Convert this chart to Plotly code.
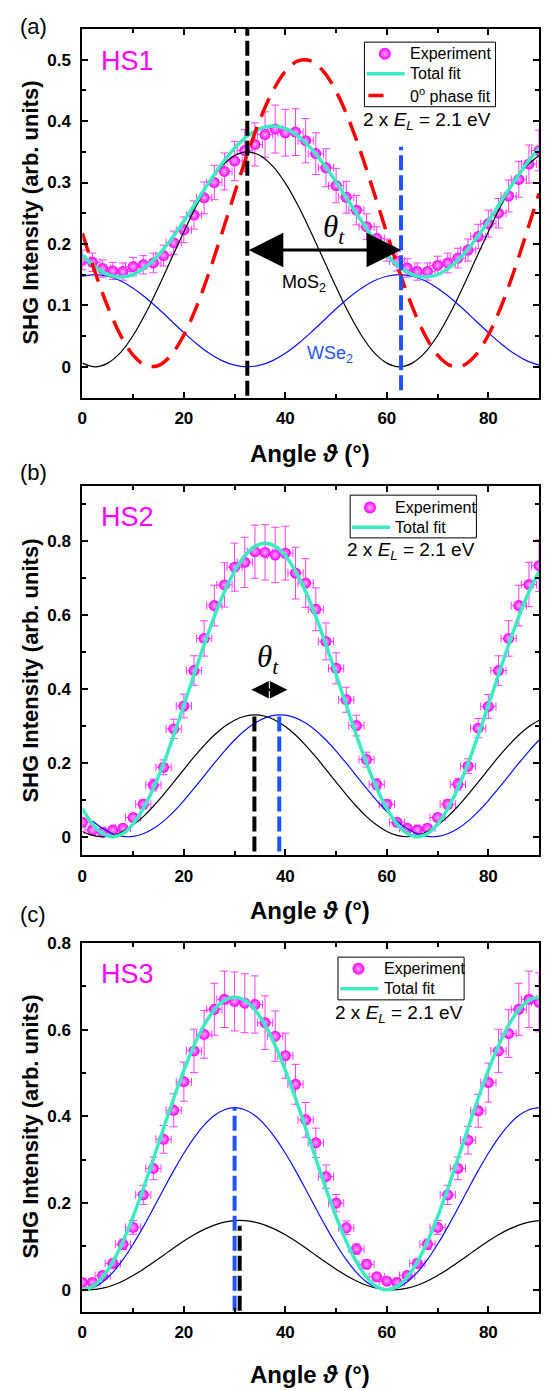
import plotly.graph_objects as go

# ---------------- data ----------------
theta_2 = [0, 2, 4, 6, 8, 10, 12, 14, 16, 18, 20, 22, 24, 26, 28, 30, 32, 34, 36, 38, 40, 42, 44,
           46, 48, 50, 52, 54, 56, 58, 60, 62, 64, 66, 68, 70, 72, 74, 76, 78, 80, 82, 84, 86, 88, 90]
theta_25 = [0, 2.5, 5, 7.5, 10, 12.5, 15, 17.5, 20, 22.5, 25, 27.5, 30, 32.5, 35, 37.5, 40, 42.5, 45,
            47.5, 50, 52.5, 55, 57.5, 60, 62.5, 65, 67.5, 70, 72.5, 75, 77.5, 80, 82.5, 85, 87.5, 90]

# HS1
exp_a = [.174, .170, .160, .156, .155, .163, .166, .169, .181, .202, .223, .247, .275, .300, .318, .335,
         .352, .362, .378, .387, .381, .382, .368, .347, .324, .295, .276, .255, .228, .209, .190, .172,
         .161, .155, .155, .165, .169, .177, .190, .212, .233, .250, .278, .305, .330, .352]
err_a = [.016, .015, .014, .014, .014, .015, .015, .016, .017, .019, .021, .023, .026, .028, .030, .032,
         .034, .035, .037, .039, .038, .038, .036, .034, .031, .028, .026, .024, .021, .019, .018, .016,
         .015, .014, .014, .015, .016, .016, .018, .020, .022, .024, .026, .029, .031, .033]
total_a = [.182, .1625, .1502, .146, .1502, .1625, .182, .2075, .2372, .269, .3008, .3305, .356, .3755,
           .3878, .392, .3878, .3755, .356, .3305, .3008, .269, .2372, .2075, .182, .1625, .1502, .146,
           .1502, .1625, .182, .2075, .2372, .269, .3008, .3305, .356]
mos2_a = [.006, 0, .006, .023, .051, .0875, .130, .175, .220, .2625, .299, .3266, .344, .35, .344, .3266,
          .299, .2625, .220, .175, .130, .0875, .051, .023, .006, 0, .006, .023, .051, .0875, .130, .175,
          .220, .2625, .299, .3266, .344]
wse2_a = [.1474, .15, .1474, .14, .128, .1125, .0944, .075, .0556, .0375, .022, .01, .0026, 0, .0026, .01,
          .022, .0375, .0556, .075, .0944, .1125, .128, .14, .1474, .15, .1474, .14, .128, .1125, .0944,
          .075, .0556, .0375, .022, .01, .0026]
phase0_a = [.2174, .1543, .0978, .0517, .019, .0021, .0021, .019, .0517, .0978, .1543, .2174, .2826, .3457,
            .4022, .4483, .481, .4979, .4979, .481, .4483, .4022, .3457, .2826, .2174, .1543, .0978, .0517,
            .019, .0021, .0021, .019, .0517, .0978, .1543, .2174, .2826]
mark_mos2_a = 32.5
mark_wse2_a = 62.8

# HS2
exp_b = [.039, .018, .012, .018, .023, .052, .088, .140, .188, .292, .354, .450, .537, .626, .682, .730,
         .743, .772, .770, .763, .768, .714, .687, .616, .529, .456, .371, .301, .209, .142, .088, .039,
         .023, .018, .023, .052, .088, .142, .191, .294, .353, .450, .537, .626, .683, .734]
err_b = [.008, .008, .008, .008, .008, .010, .012, .016, .020, .026, .032, .040, .048, .055, .060, .065,
         .068, .072, .075, .075, .073, .070, .066, .058, .050, .042, .034, .028, .020, .015, .012, .008,
         .008, .008, .008, .010, .012, .016, .020, .026, .032, .040, .048, .055, .060, .070]
total_b = [.0759, .0343, .0087, 0, .0087, .0343, .0759, .1315, .1988, .2747, .3559, .4391, .5203, .5963,
           .6635, .7191, .7607, .7863, .795, .7863, .7607, .7191, .6635, .5963, .5203, .4391, .3559, .2747,
           .1988, .1315, .0759, .0343, .0087, 0, .0087, .0343, .0759, .1315, .1988, .2747, .3559, .4391,
           .5203, .5963, .6635, .7191]
mos2_b = [.0143, .0036, 0, .0036, .0143, .0315, .0546, .0825, .114, .1477, .1823, .216, .2475, .2754, .2985,
          .3157, .3264, .33, .3264, .3157, .2985, .2754, .2475, .216, .1823, .1477, .114, .0825, .0546,
          .0315, .0143, .0036, 0, .0036, .0143, .0315, .0546, .0825, .114, .1477, .1823, .216, .2475,
          .2754, .2985, .3157]
wse2_b = [.0424, .0221, .0081, .0009, .0009, .0081, .0221, .0424, .068, .0979, .1307, .165, .1993, .2321,
          .262, .2876, .3079, .3219, .3291, .3291, .3219, .3079, .2876, .262, .2321, .1993, .165, .1307,
          .0979, .068, .0424, .0221, .0081, .0009, .0009, .0081, .0221, .0424, .068, .0979, .1307, .165,
          .1993, .2321, .262]
mark_mos2_b = 33.9
mark_wse2_b = 38.8
peak_b = 0.326

# HS3
exp_c = [.017, .017, .033, .061, .105, .144, .219, .280, .347, .414, .480, .551, .589, .647, .670, .665,
         .661, .658, .616, .585, .540, .474, .392, .339, .261, .200, .143, .094, .059, .030, .020, .017,
         .033, .061, .105, .144, .219, .280, .345, .413, .478, .551, .591, .647, .670, .663]
err_c = [.008, .008, .008, .010, .012, .016, .022, .026, .032, .038, .045, .050, .055, .060, .065, .068,
         .068, .066, .062, .058, .052, .046, .040, .034, .027, .020, .016, .012, .010, .008, .008, .008,
         .008, .010, .012, .016, .022, .026, .032, .038, .045, .050, .055, .060, .065, .068]
total_c = [0, .0074, .0292, .0645, .1116, .1688, .2332, .3022, .3728, .4418, .5063, .5634, .6105, .6458,
           .6677, .675, .6677, .6458, .6105, .5634, .5063, .4418, .3728, .3022, .2332, .1688, .1116, .0645,
           .0292, .0074, 0, .0074, .0292, .0645, .1116, .1688, .2332, .3022, .3728, .4418, .5063, .5634,
           .6105, .6458, .6677, .675]
mos2_c = [.0004, .0004, .0039, .0107, .0205, .033, .0475, .0634, .08, .0966, .1125, .127, .1395, .1493,
          .1561, .1596, .1596, .1561, .1493, .1395, .127, .1125, .0966, .08, .0634, .0475, .033, .0205,
          .0107, .0039, .0004, .0004, .0039, .0107, .0205, .033, .0475, .0634, .08, .0966, .1125, .127,
          .1395, .1493, .1561, .1596]
wse2_c = [0, .0046, .0181, .0401, .0695, .105, .1451, .188, .232, .2749, .315, .3505, .3799, .4019, .4154,
          .42, .4154, .4019, .3799, .3505, .315, .2749, .232, .188, .1451, .105, .0695, .0401, .0181,
          .0046, 0, .0046, .0181, .0401, .0695, .105, .1451, .188, .232, .2749, .315, .3505, .3799, .4019,
          .4154, .42]
mark_wse2_c = 30.0
mark_mos2_c = 31.0

x_ticks = [0, 20, 40, 60, 80]
y_ticks_a = [0, 0.1, 0.2, 0.3, 0.4, 0.5]
y_ticks_bc = [0, 0.2, 0.4, 0.6, 0.8]

# ---------------- styling ----------------
FONT = "Liberation Sans, Arial, sans-serif"
SERIF = "Liberation Serif, DejaVu Serif, serif"
OFF = 8                      # default body margin of the html page
W, H = 551 - OFF, 1391 - OFF
MAG = "#FF00FF"
CYAN = "#3DEBC2"
BLUE_D = "#1F52FF"
BLUE_L = "#0A10FF"
RED = "#FF0000"
MARKER = dict(size=11, color=MAG, gradient=dict(type="radial", color="#FFA8FF"), line=dict(width=0))
CLEAR = "rgba(0,0,0,0)"


def py(y):
    return 1 - (y - OFF) / H


def px(x):
    return (x - OFF) / W


def lab(v):
    return "<b>%s</b>" % ("0" if v == 0 else ("%g" % v))


fig = go.Figure()
suffix = {1: "", 2: "2", 3: "3"}


def add_exp(p, x, y, err):
    fig.add_trace(go.Scatter(
        x=x, y=y, mode="markers", name="Experiment", showlegend=False,
        xaxis="x" + suffix[p], yaxis="y" + suffix[p], marker=MARKER,
        error_y=dict(type="data", array=err, color="#FF3DFF", thickness=1, width=4),
        error_x=dict(type="constant", value=1.5, color="#FF3DFF", thickness=1, width=4),
    ))


def add_line(p, x, y, color, width, name="", dash=None):
    fig.add_trace(go.Scatter(
        x=x, y=y, mode="lines", name=name, showlegend=False,
        xaxis="x" + suffix[p], yaxis="y" + suffix[p],
        line=dict(color=color, width=width, dash=dash, shape="spline"),
    ))


def add_vline(p, x0, y0, y1, color):
    fig.add_trace(go.Scatter(
        x=[x0, x0], y=[y0, y1], mode="lines", showlegend=False,
        xaxis="x" + suffix[p], yaxis="y" + suffix[p],
        line=dict(color=color, width=4, dash="15px,5px"),
    ))


# panel a
add_exp(1, theta_2, exp_a, err_a)
add_line(1, theta_25, mos2_a, "black", 1.2, "MoS2")
add_line(1, theta_25, wse2_a, BLUE_L, 1.2, "WSe2")
add_line(1, theta_25, total_a, CYAN, 3.5, "Total fit")
add_line(1, theta_25, phase0_a, RED, 3.5, "0° phase fit", dash="20px,11px")
add_vline(1, mark_mos2_a, -0.047, 0.55, "black")
add_vline(1, mark_wse2_a, -0.038, 0.358, BLUE_D)

# panel b
add_exp(2, theta_2, exp_b, err_b)
add_line(2, theta_2, mos2_b, "black", 1.2, "MoS2")
add_line(2, theta_2[1:], wse2_b, BLUE_L, 1.2, "WSe2")
add_line(2, theta_2, total_b, CYAN, 3.5, "Total fit")
add_vline(2, mark_mos2_b, -0.04, peak_b, "black")
add_vline(2, mark_wse2_b, -0.04, peak_b, BLUE_D)

# panel c
add_exp(3, theta_2, exp_c, err_c)
add_line(3, theta_2, mos2_c, "black", 1.2, "MoS2")
add_line(3, theta_2, wse2_c, BLUE_L, 1.2, "WSe2")
add_line(3, theta_2, total_c, CYAN, 3.5, "Total fit")
add_vline(3, mark_mos2_c, -0.048, 0.148, "black")
add_vline(3, mark_wse2_c, -0.048, 0.42, BLUE_D)

# axes
xdom = [px(78), px(539)]
ydoms = {1: [py(391), py(20)], 2: [py(851.7), py(480)], 3: [py(1311), py(940)]}
yranges = {1: [-0.05, 0.55], 2: [-0.05, 0.95], 3: [-0.05, 0.8]}
yticks = {1: y_ticks_a, 2: y_ticks_bc, 3: y_ticks_bc}
ydt = {1: 0.1, 2: 0.2, 3: 0.2}

tickfont = dict(family=FONT, size=17, color="black")
common = dict(showline=True, linecolor="black", linewidth=2, mirror="allticks", ticks="inside",
              ticklen=6, tickwidth=1.5, tickcolor="black", showgrid=False, zeroline=False,
              tickfont=tickfont)

layout = dict(width=W, height=H, margin=dict(l=0, r=0, t=0, b=0), plot_bgcolor=CLEAR,
              paper_bgcolor="white", font=dict(family=FONT, color="black"), showlegend=False)
for p in (1, 2, 3):
    s = suffix[p]
    layout["xaxis" + s] = dict(common, domain=xdom, range=[0, 90], anchor="y" + s,
                               tickvals=x_ticks, ticktext=[lab(v) for v in x_ticks], ticklabelstandoff=4,
                               minor=dict(ticks="inside", ticklen=4, tickwidth=1.5, tickcolor="black",
                                          tick0=0, dtick=10))
    layout["yaxis" + s] = dict(common, domain=ydoms[p], range=yranges[p], anchor="x" + s,
                               tickvals=yticks[p], ticktext=[lab(v) for v in yticks[p]], ticklabelstandoff=6,
                               minor=dict(ticks="inside", ticklen=4, tickwidth=1.5, tickcolor="black",
                                          tick0=0, dtick=ydt[p] / 2))
# overlay pixel-space axes for the hand-drawn legend boxes
layout["xaxis4"] = dict(domain=[0, 1], range=[OFF, 551], visible=False, anchor="y4", fixedrange=True)
layout["yaxis4"] = dict(domain=[0, 1], range=[1391, OFF], visible=False, anchor="x4", fixedrange=True)

# legends: (box x0, y0, x1, y1), text x, entries (kind, y, sample x0, sample x1, label)
legend_specs = [
    ((362.7, 33.3, 495, 98.3), 406.7, [("marker", 45, 383.3, None, "Experiment"),
                                       ("line", 65, 365, 403.3, "Total fit"),
                                       ("dash", 87, 366.7, 382, "0<sup>o</sup> phase fit")]),
    ((348.3, 489.3, 475.7, 532.3), 391.7, [("marker", 501.7, 368.3, None, "Experiment"),
                                           ("line", 521.7, 350, 388.3, "Total fit")]),
    ((336, 954.3, 463.3, 997.3), 380, [("marker", 966, 356.7, None, "Experiment"),
                                       ("line", 986, 338.3, 376.7, "Total fit")]),
]
shapes = []
ann = []
for (bx0, by0, bx1, by1), tx, entries in legend_specs:
    shapes.append(dict(type="rect", xref="x4", yref="y4", x0=bx0, y0=by0, x1=bx1, y1=by1,
                       line=dict(color="black", width=1), fillcolor=CLEAR, layer="above"))
    for kind, yy, sx0, sx1, text in entries:
        if kind == "marker":
            fig.add_trace(go.Scatter(x=[sx0], y=[yy], mode="markers", xaxis="x4", yaxis="y4",
                                     marker=dict(MARKER, size=12), showlegend=False, hoverinfo="skip"))
        else:
            shapes.append(dict(type="line", xref="x4", yref="y4", x0=sx0, x1=sx1, y0=yy, y1=yy,
                               line=dict(color=CYAN if kind == "line" else RED, width=3.5), layer="above"))
        ann.append(dict(text=text, x=tx, y=yy, xref="x4", yref="y4", xanchor="left", yanchor="middle",
                        showarrow=False, font=dict(family=FONT, size=16, color="black")))

# panel letters
for t, yy in (("(a)", 18), ("(b)", 466), ("(c)", 911)):
    ann.append(dict(text=t, x=px(13), y=py(yy), xref="paper", yref="paper", xanchor="left",
                    yanchor="middle", showarrow=False, font=dict(family=FONT, size=22, color="black")))
# y titles
for yy in (205, 666, 1125):
    ann.append(dict(text="<b>SHG Intensity (arb. units)</b>", x=px(26), y=py(yy), xref="paper", yref="paper",
                    textangle=-90, showarrow=False, xanchor="center", yanchor="middle",
                    font=dict(family=FONT, size=22, color="black")))
# x titles
for yy in (447, 907, 1374):
    ann.append(dict(text="<b>Angle <i>ϑ</i> (°)</b>", x=px(308), y=py(yy), xref="paper", yref="paper",
                    showarrow=False, xanchor="center", yanchor="middle",
                    font=dict(family=FONT, size=24, color="black")))
# HS labels
for t, yy in (("HS1", 52), ("HS2", 511), ("HS3", 971)):
    ann.append(dict(text=t, x=px(95), y=py(yy), xref="paper", yref="paper", xanchor="left",
                    yanchor="middle", showarrow=False, font=dict(family=FONT, size=27, color=MAG)))
# energy labels
for xx, yy in ((426, 113), (410, 545), (398, 1012)):
    ann.append(dict(text="2 x <i>E</i><sub><i>L</i></sub> = 2.1 eV", x=px(xx), y=py(yy), xref="paper",
                    yref="paper", xanchor="center", yanchor="middle", showarrow=False,
                    font=dict(family=FONT, size=19, color="black")))
# panel a annotations
ann.append(dict(x=mark_wse2_a, y=0.19, ax=mark_mos2_a, ay=0.19, xref="x", yref="y", axref="x", ayref="y",
                showarrow=True, arrowhead=2, startarrowhead=2, arrowside="end+start", arrowsize=2.3,
                arrowwidth=3, arrowcolor="black", text=""))
ann.append(dict(text="<i>θ</i><sub><i>t</i></sub>", x=49.6, y=0.225, xref="x", yref="y", showarrow=False,
                font=dict(family=SERIF, size=31, color="black")))
ann.append(dict(text="MoS<sub>2</sub>", x=43.7, y=0.135, xref="x", yref="y", showarrow=False,
                font=dict(family=FONT, size=18, color="black")))
ann.append(dict(text="WSe<sub>2</sub>", x=48.7, y=0.02, xref="x", yref="y", showarrow=False,
                font=dict(family=FONT, size=18, color=BLUE_D)))
# panel b annotations
ann.append(dict(x=40.4, y=0.398, ax=33.0, ay=0.398, xref="x2", yref="y2", axref="x2", ayref="y2",
                showarrow=True, arrowhead=2, startarrowhead=2, arrowside="end+start", arrowsize=1.4,
                arrowwidth=2.5, arrowcolor="black", text=""))
ann.append(dict(text="<i>θ</i><sub><i>t</i></sub>", x=36.6, y=0.48, xref="x2", yref="y2", showarrow=False,
                font=dict(family=SERIF, size=31, color="black")))
layout["annotations"] = ann
layout["shapes"] = shapes

fig.update_layout(**layout)
fig.write_html("out.html")
